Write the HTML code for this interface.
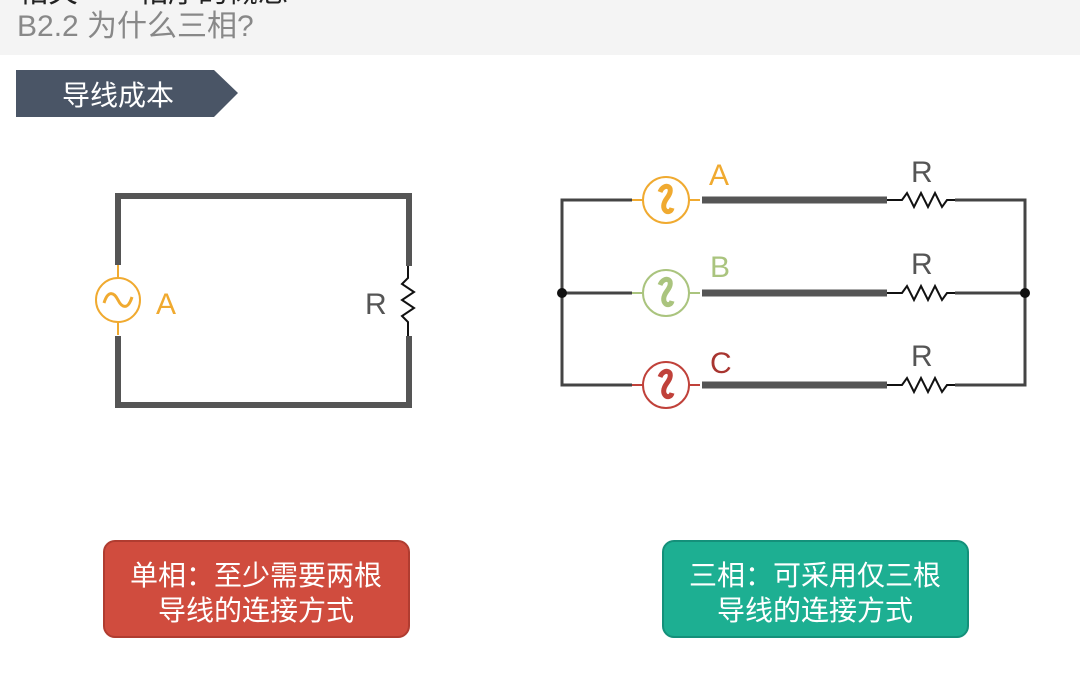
<!DOCTYPE html>
<html><head><meta charset="utf-8"><style>
html,body{margin:0;padding:0;width:1080px;height:679px;overflow:hidden;background:#fff;font-family:"Liberation Sans","Noto Sans CJK SC",sans-serif}
</style></head><body>
<svg width="1080" height="679" xmlns="http://www.w3.org/2000/svg" font-family="Liberation Sans, Noto Sans CJK SC, sans-serif">
<rect x="0" y="0" width="1080" height="55" fill="#f4f4f4"/>
<text x="18" y="2" font-size="30" fill="#222">相关——相序的概念</text>
<text x="17" y="36" font-size="30" fill="#888">B2.2 为什么三相?</text>
<polygon points="16,70 214,70 238,93 214,117 16,117" fill="#4a5566"/>
<text x="62" y="105" font-size="28" fill="#fff">导线成本</text>
<g stroke="#555" stroke-width="6" fill="none" stroke-linecap="butt">
<polyline points="118,265 118,196 409,196 409,266"/>
<polyline points="118,336 118,405 409,405 409,336"/>
</g>
<g stroke="#f0aa30" stroke-width="2" fill="none">
<line x1="118" y1="265" x2="118" y2="278"/><line x1="118" y1="322" x2="118" y2="335"/>
<circle cx="118" cy="300" r="22"/>
<path d="M104,303 C108,290 114,292 118,300 C122,308 128,310 132,297" stroke-width="3"/>
</g>
<text x="156" y="314" font-size="30" fill="#f0aa30">A</text>
<polyline points="408,266 408,278 402,284 414,292 402,300 414,308 402,316 408,322 408,336" stroke="#111" stroke-width="2" fill="none"/>
<text x="365" y="314" font-size="30" fill="#555">R</text>
<g stroke="#444" stroke-width="3" fill="none">
<polyline points="632,200 562,200 562,385 632,385"/>
<line x1="562" y1="293" x2="632" y2="293"/>
<polyline points="955,200 1025,200 1025,385 955,385"/>
<line x1="955" y1="293" x2="1025" y2="293"/>
</g>
<circle cx="562" cy="293" r="5" fill="#111"/><circle cx="1025" cy="293" r="5" fill="#111"/>
<g stroke="#555" stroke-width="7">
<line x1="702" y1="200" x2="887" y2="200"/><line x1="702" y1="293" x2="887" y2="293"/><line x1="702" y1="385" x2="887" y2="385"/>
</g>
<g stroke="#111" stroke-width="2" fill="none">
<polyline points="887,200 902,200 907,193 914,207 921,193 928,207 935,193 942,207 947,200 955,200"/>
<polyline points="887,293 902,293 907,286 914,300 921,286 928,300 935,286 942,300 947,293 955,293"/>
<polyline points="887,385 902,385 907,378 914,392 921,378 928,392 935,378 942,392 947,385 955,385"/>
</g>
<g font-size="30" fill="#555"><text x="911" y="182">R</text><text x="911" y="274">R</text><text x="911" y="366">R</text></g>
<g fill="none" stroke-width="2">
<g stroke="#f0aa30"><line x1="632" y1="200" x2="643" y2="200"/><line x1="689" y1="200" x2="700" y2="200"/><circle cx="666" cy="200" r="23"/><path d="M660,192 C664,182 676,186 667,198 C658,210 670,216 672,208" stroke-width="5"/></g>
<g stroke="#aac47e"><line x1="632" y1="293" x2="643" y2="293"/><line x1="689" y1="293" x2="700" y2="293"/><circle cx="666" cy="293" r="23"/><path d="M660,285 C664,275 676,279 667,291 C658,303 670,309 672,301" stroke-width="5"/></g>
<g stroke="#c0413a"><line x1="632" y1="385" x2="643" y2="385"/><line x1="689" y1="385" x2="700" y2="385"/><circle cx="666" cy="385" r="23"/><path d="M660,377 C664,367 676,371 667,383 C658,395 670,401 672,393" stroke-width="5"/></g>
</g>
<text x="709" y="185" font-size="30" fill="#f0aa30">A</text>
<text x="710" y="277" font-size="30" fill="#aac47e">B</text>
<text x="710" y="373" font-size="30" fill="#a83530">C</text>
<rect x="104" y="541" width="305" height="96" rx="11" fill="#d04c3e" stroke="#b03c30" stroke-width="2"/>
<text x="256" y="585" font-size="28" fill="#fff" text-anchor="middle">单相：至少需要两根</text>
<text x="256" y="620" font-size="28" fill="#fff" text-anchor="middle">导线的连接方式</text>
<rect x="663" y="541" width="305" height="96" rx="11" fill="#1daf92" stroke="#14907a" stroke-width="2"/>
<text x="815" y="585" font-size="28" fill="#fff" text-anchor="middle">三相：可采用仅三根</text>
<text x="815" y="620" font-size="28" fill="#fff" text-anchor="middle">导线的连接方式</text>
</svg>
</body></html>
